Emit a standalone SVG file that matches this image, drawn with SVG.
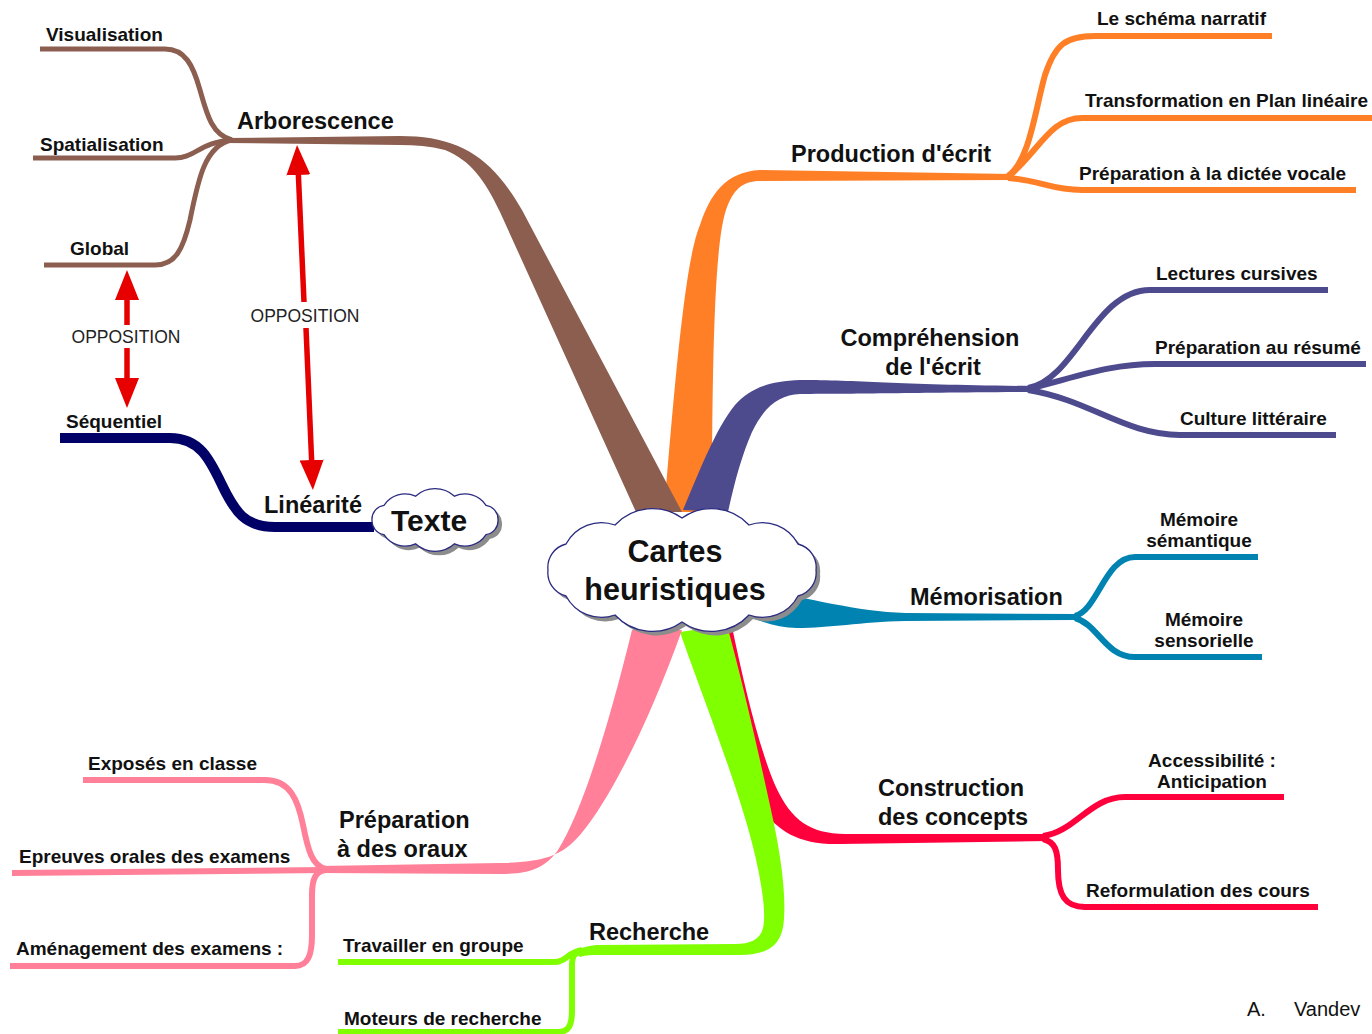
<svg xmlns="http://www.w3.org/2000/svg" width="1372" height="1034" viewBox="0 0 1372 1034">
<defs>
<style>
text{font-family:"Liberation Sans",Arial,sans-serif;fill:#111}
.main{font-size:23.5px;font-weight:bold}
.sub{font-size:19px;font-weight:bold}
.big{font-size:30.5px;font-weight:bold}
.opp{font-size:17.5px;fill:#222}
.mid{text-anchor:middle}
.br{fill:none;stroke-width:6;stroke-linecap:butt}
.cloud{fill:#fff;stroke:#2a2a80;stroke-width:1.3}
.shadow{fill:#8c8c8c}
.arr{stroke:#e60000;stroke-width:5.5;fill:none}
</style>
<marker id="ah" viewBox="0 0 30 24" refX="2" refY="12" markerWidth="30" markerHeight="24" markerUnits="userSpaceOnUse" orient="auto">
<path d="M0,0 L30,12 L0,24 Z" fill="#e60000"/>
</marker>
</defs>
<rect width="1372" height="1034" fill="#fff"/>

<g id="connectors">
<!-- orange -->
<path fill="#ff7f27" d="M664 512 C675 380 685 260 700 225 C710 195 725 172 760 170 L1012 174 L1012 180 L760 181 C742 181 733 190 726 210 C716 240 712 330 712 512 Z"/>
<g class="br" stroke="#ff7f27">
<path d="M1008 176 C1030 160 1035 110 1045 75 C1055 45 1065 36 1095 36 L1272 36"/>
<path d="M1008 177 C1040 150 1050 118 1082 118 L1372 118"/>
<path d="M1008 178 C1040 180 1050 190 1082 190 L1356 190"/>
</g>
<!-- brown -->
<path fill="#8b5e50" d="M225 138 L400 136 C445 136 475 148 500 178 C510 190 515 198 522 210 L682 512 L636 512 L500 212 C485 180 470 160 445 150 C430 146 415 145 400 145 L225 143 Z"/>
<g class="br" stroke="#8b5e50" style="stroke-width:5">
<path d="M40 49 L165 49 C185 49 193 65 200 90 C207 115 212 135 232 140"/>
<path d="M33 158 L175 158 C195 158 200 142 232 140"/>
<path d="M44 265 L155 265 C175 265 183 250 190 220 C198 180 205 145 232 140"/>
</g>
<!-- purple -->
<path fill="#4e4a8e" d="M683 510 C700 470 715 430 735 405 C750 388 770 381 800 380 C860 380 900 385 1032 386 L1032 392 C900 393 860 394 800 394 C780 395 765 405 752 432 C742 455 735 480 728 512 Z"/>
<g class="br" stroke="#4e4a8e">
<path d="M1028 388 C1075 380 1095 290 1150 290 L1328 290"/>
<path d="M1028 389 C1080 376 1110 364 1155 364 L1366 364"/>
<path d="M1028 390 C1090 400 1125 435 1180 435 L1336 435"/>
</g>
<!-- teal -->
<path fill="#0083b0" d="M740 588 C790 592 850 612 905 613 L1078 614 L1078 620 L905 621 C860 622 830 628 797 628 C778 628 760 622 740 612 Z"/>
<g class="br" stroke="#0083b0">
<path d="M1075 616 C1098 610 1105 557 1135 557 L1258 557"/>
<path d="M1075 618 C1098 624 1105 657 1135 657 L1262 657"/>
</g>
<!-- red -->
<path fill="#ff003c" d="M731 622 C745 690 760 750 775 785 C792 822 810 833 845 834 L1047 834 L1047 841 L840 844 C800 845 778 832 762 808 C750 790 740 700 722 628 Z"/>
<g class="br" stroke="#ff003c">
<path d="M1043 836 C1075 832 1090 797 1125 797 L1284 797"/>
<path d="M1043 839 C1055 842 1058 850 1058 870 C1058 895 1065 907 1085 907 L1318 907"/>
</g>
<!-- green -->
<path fill="#80ff00" d="M680 632 C700 690 740 790 755 855 C763 890 766 915 763 928 C760 940 750 944 735 944 L600 945 C590 945 582 947 575 952 L580 957 C586 955 592 955 600 955 L740 955 C772 955 783 942 784 918 C786 890 780 850 771 810 C758 750 742 680 727 625 Z"/>
<g class="br" stroke="#80ff00">
<path d="M338 962 L555 962 C566 962 568 952 582 950"/>
<path d="M338 1032 L558 1032 C569 1032 572 1025 572 1010 L572 965 C572 956 575 952 582 951"/>
</g>
<!-- pink -->
<path fill="#ff8098" d="M682 630 C650 720 610 800 580 835 C560 858 540 862 500 863 L320 866 L320 873 L500 874 C530 874 545 868 558 850 C580 815 605 740 632 630 Z"/>
<g class="br" stroke="#ff8098">
<path d="M83 780 L265 780 C290 780 298 800 303 825 C308 850 312 866 326 869"/>
<path d="M12 873 L326 870"/>
<path d="M10 966 L295 966 C308 966 312 955 312 935 L312 895 C312 878 316 871 326 870"/>
</g>
<!-- navy -->
<path class="br" stroke="#000066" style="stroke-width:10" d="M60 438 L170 438 C200 438 210 460 222 485 C235 512 245 527 275 527 L374 527"/>
<!-- opposition arrows -->
<line class="arr" x1="127" y1="325" x2="127" y2="298" marker-end="url(#ah)"/>
<line class="arr" x1="127" y1="348" x2="127" y2="380" marker-end="url(#ah)"/>
<line class="arr" x1="304" y1="302" x2="298.3" y2="173" marker-end="url(#ah)"/>
<line class="arr" x1="306" y1="328" x2="311.7" y2="462" marker-end="url(#ah)"/>
</g>

<g id="node-center">
<path class="shadow" transform="translate(4,4)" d="M816 570 A24 24 0 0 1 798 596 A40 40 0 0 1 749 615 A51 51 0 0 1 682 622 A51 51 0 0 1 615 615 A40 40 0 0 1 566 596 A24 24 0 0 1 548 570 A24 24 0 0 1 566 544 A40 40 0 0 1 615 525 A51 51 0 0 1 682 518 A51 51 0 0 1 749 525 A40 40 0 0 1 798 544 A24 24 0 0 1 816 570 Z"/>
<path class="cloud" d="M816 570 A24 24 0 0 1 798 596 A40 40 0 0 1 749 615 A51 51 0 0 1 682 622 A51 51 0 0 1 615 615 A40 40 0 0 1 566 596 A24 24 0 0 1 548 570 A24 24 0 0 1 566 544 A40 40 0 0 1 615 525 A51 51 0 0 1 682 518 A51 51 0 0 1 749 525 A40 40 0 0 1 798 544 A24 24 0 0 1 816 570 Z"/>
<text class="big mid" x="675" y="562">Cartes</text>
<text class="big mid" x="675" y="600">heuristiques</text>
</g>

<g id="node-texte">
<path class="shadow" transform="translate(4,4)" d="M498 520 A14 14 0 0 1 486 534.7 A25 25 0 0 1 454.5 543.8 A29 29 0 0 1 415.5 543.8 A25 25 0 0 1 384 534.7 A14 14 0 0 1 372 520 A14 14 0 0 1 384 505.3 A25 25 0 0 1 415.5 496.2 A29 29 0 0 1 454.5 496.2 A25 25 0 0 1 486 505.3 A14 14 0 0 1 498 520 Z"/>
<path class="cloud" d="M498 520 A14 14 0 0 1 486 534.7 A25 25 0 0 1 454.5 543.8 A29 29 0 0 1 415.5 543.8 A25 25 0 0 1 384 534.7 A14 14 0 0 1 372 520 A14 14 0 0 1 384 505.3 A25 25 0 0 1 415.5 496.2 A29 29 0 0 1 454.5 496.2 A25 25 0 0 1 486 505.3 A14 14 0 0 1 498 520 Z"/>
<text class="big" x="391" y="531" style="font-size:30px">Texte</text>
</g>

<g id="node-arborescence"><text class="main" x="237" y="129">Arborescence</text></g>
<g id="node-visualisation"><text class="sub" x="46" y="41">Visualisation</text></g>
<g id="node-spatialisation"><text class="sub" x="40" y="151">Spatialisation</text></g>
<g id="node-global"><text class="sub" x="70" y="255">Global</text></g>
<g id="node-sequentiel"><text class="sub" x="66" y="428">Séquentiel</text></g>
<g id="node-linearite"><text class="main" x="264" y="513">Linéarité</text></g>
<g id="label-opposition-1"><text class="opp mid" x="126" y="343">OPPOSITION</text></g>
<g id="label-opposition-2"><text class="opp mid" x="305" y="322">OPPOSITION</text></g>

<g id="node-production"><text class="main" x="791" y="162">Production d'écrit</text></g>
<g id="node-schema"><text class="sub" x="1097" y="25">Le schéma narratif</text></g>
<g id="node-transformation"><text class="sub" x="1085" y="107">Transformation en Plan linéaire</text></g>
<g id="node-dictee"><text class="sub" x="1079" y="180">Préparation à la dictée vocale</text></g>

<g id="node-comprehension"><text class="main mid" x="930" y="346">Compréhension</text><text class="main mid" x="933" y="375">de l'écrit</text></g>
<g id="node-lectures"><text class="sub" x="1156" y="280">Lectures cursives</text></g>
<g id="node-resume"><text class="sub" x="1155" y="354">Préparation au résumé</text></g>
<g id="node-culture"><text class="sub" x="1180" y="425">Culture littéraire</text></g>

<g id="node-memorisation"><text class="main" x="910" y="605">Mémorisation</text></g>
<g id="node-semantique"><text class="sub mid" x="1199" y="526">Mémoire</text><text class="sub mid" x="1199" y="547">sémantique</text></g>
<g id="node-sensorielle"><text class="sub mid" x="1204" y="626">Mémoire</text><text class="sub mid" x="1204" y="647">sensorielle</text></g>

<g id="node-construction"><text class="main" x="878" y="796">Construction</text><text class="main" x="878" y="825">des concepts</text></g>
<g id="node-accessibilite"><text class="sub mid" x="1212" y="767">Accessibilité :</text><text class="sub mid" x="1212" y="788">Anticipation</text></g>
<g id="node-reformulation"><text class="sub" x="1086" y="897">Reformulation des cours</text></g>

<g id="node-oraux"><text class="main" x="339" y="828">Préparation</text><text class="main" x="337" y="857">à des oraux</text></g>
<g id="node-exposes"><text class="sub" x="88" y="770">Exposés en classe</text></g>
<g id="node-epreuves"><text class="sub" x="19" y="863">Epreuves orales des examens</text></g>
<g id="node-amenagement"><text class="sub" x="16" y="955">Aménagement des examens :</text></g>

<g id="node-recherche"><text class="main" x="589" y="940">Recherche</text></g>
<g id="node-groupe"><text class="sub" x="343" y="952">Travailler en groupe</text></g>
<g id="node-moteurs"><text class="sub" x="344" y="1025">Moteurs de recherche</text></g>

<g id="credit"><text x="1247" y="1016" style="font-size:20px">A.</text><text x="1294" y="1016" style="font-size:20px">Vandev</text></g>
</svg>
